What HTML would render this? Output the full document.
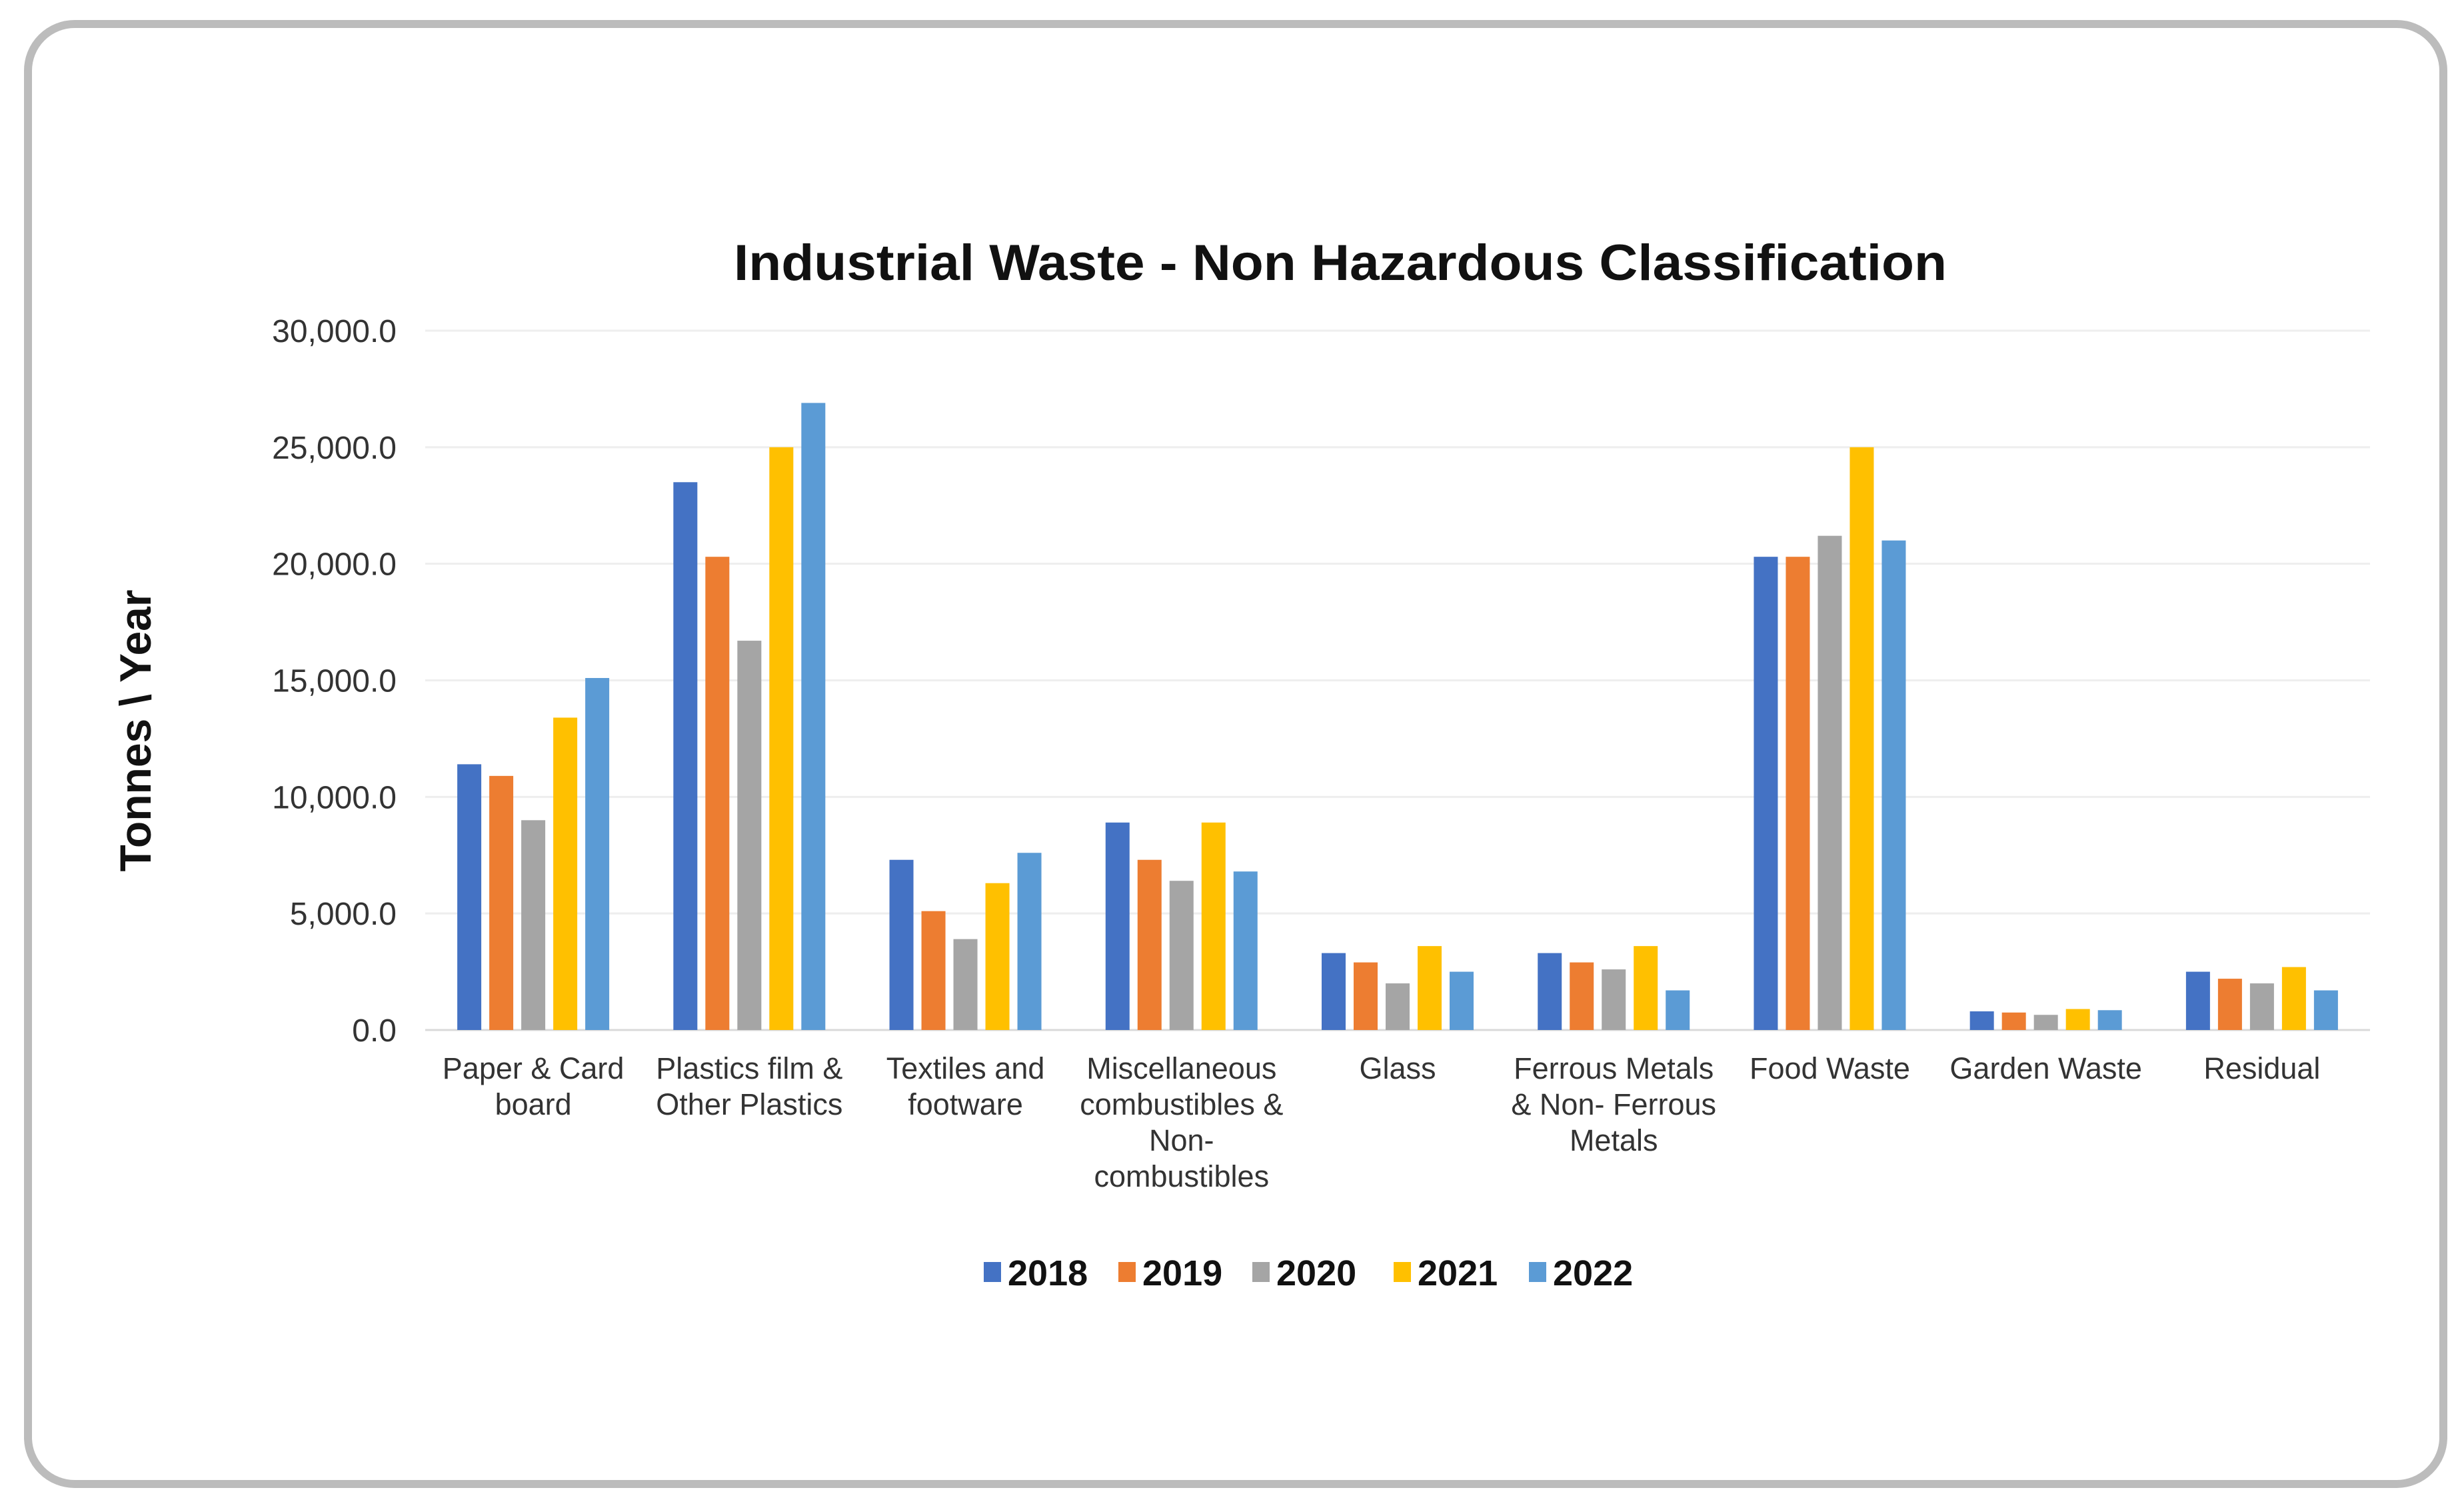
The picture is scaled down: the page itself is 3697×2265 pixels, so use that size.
<!DOCTYPE html>
<html><head><meta charset="utf-8"><style>
html,body{margin:0;padding:0;background:#fff}
svg{display:block}
text{font-family:"Liberation Sans",sans-serif}
</style></head><body>
<svg id="chart" width="3697" height="2265" viewBox="0 0 3697 2265" xmlns="http://www.w3.org/2000/svg">
<rect x="42" y="36" width="3624" height="2190" rx="70" fill="#fff" stroke="#bcbcbc" stroke-width="12"/>
<text x="2011" y="420" text-anchor="middle" font-size="76" font-weight="bold" fill="#111" textLength="1820" lengthAdjust="spacingAndGlyphs">Industrial Waste - Non Hazardous Classification</text>
<text transform="translate(226,1096) rotate(-90)" text-anchor="middle" font-size="66" font-weight="bold" fill="#111">Tonnes \ Year</text>
<g id="grid"></g><g id="bars"></g><g id="xlabels"></g><g id="legend"></g>
</svg>
<script>
const categories = [["Paper & Card","board"],["Plastics film &","Other Plastics"],["Textiles and","footware"],["Miscellaneous","combustibles &","Non-","combustibles"],["Glass"],["Ferrous Metals","& Non- Ferrous","Metals"],["Food Waste"],["Garden Waste"],["Residual"]];
const seriesNames = ["2018","2019","2020","2021","2022"];
const s2018 = [11400,23500,7300,8900,3300,3300,20300,800,2500];
const s2019 = [10900,20300,5100,7300,2900,2900,20300,750,2200];
const s2020 = [9000,16700,3900,6400,2000,2600,21200,650,2000];
const s2021 = [13400,25000,6300,8900,3600,3600,25000,900,2700];
const s2022 = [15100,26900,7600,6800,2500,1700,21000,850,1700];
const yTicks = [0,5000,10000,15000,20000,25000,30000];
const yTickLabels = ["0.0","5,000.0","10,000.0","15,000.0","20,000.0","25,000.0","30,000.0"];
const series=[s2018,s2019,s2020,s2021,s2022];
const colors=["#4472C4","#ED7D31","#A5A5A5","#FFC000","#5B9BD5"];
const NS="http://www.w3.org/2000/svg";
const L=638,R=3556,T=496,B=1545,yMax=30000;
const y=v=>B-(v/yMax)*(B-T);
const band=(R-L)/categories.length;
const xc=i=>L+band*(i+0.5);
function mk(tag,attrs,parent,txt){const e=document.createElementNS(NS,tag);for(const k in attrs)e.setAttribute(k,attrs[k]);if(txt!==undefined)e.textContent=txt;parent.appendChild(e);return e;}
const grid=document.getElementById('grid');
yTicks.forEach((t,i)=>{
  const ln=mk('line',{x1:L,x2:R,y1:y(t),y2:y(t),stroke:i===0?'#d9d9d9':'#eeeeee','stroke-width':3},grid);
  
  
  const tx=mk('text',{x:595,y:y(t)+17,'text-anchor':'end','font-size':48,fill:'#333'},grid,yTickLabels[i]);
  
  
});
const bars=document.getElementById('bars');
const bw=36,pitch=48;
categories.forEach((c,i)=>{
  const start=xc(i)-(pitch*4+bw)/2;
  series.forEach((s,j)=>{
    const r=mk('rect',{x:start+j*pitch,y:y(s[i]),width:bw,height:B-y(s[i]),fill:colors[j]},bars);
    
    
  });
  const t=mk('text',{x:xc(i),y:1618,'text-anchor':'middle','font-size':45,fill:'#333'},document.getElementById('xlabels'));
  
  
  c.forEach((line,k)=>{mk('tspan',{x:xc(i),y:1618+k*54},t,line);});
});
const lg=document.getElementById('legend');
const lx=[1476,1678,1879,2091,2294];
seriesNames.forEach((n,j)=>{
  const g=mk('g',{},lg);
  
  
  mk('rect',{x:lx[j],y:1893,width:26,height:30,fill:colors[j]},g);
  mk('text',{x:lx[j]+36,y:1928,'font-size':54,'font-weight':'bold',fill:'#111'},g,n);
});
</script>
</body></html>
